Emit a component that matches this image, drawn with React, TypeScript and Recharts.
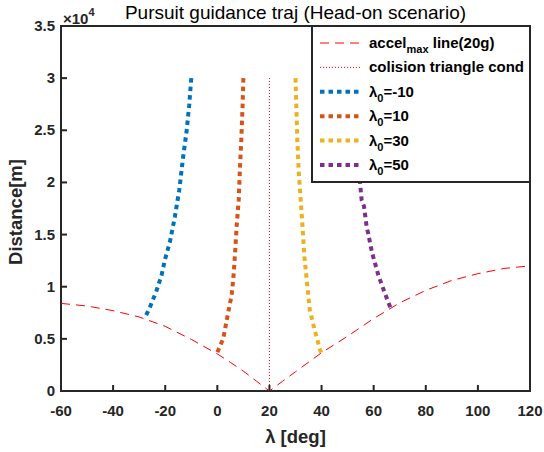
import React from 'react';
import { LineChart, Line, XAxis, YAxis, Legend, ReferenceArea } from 'recharts';

// ---- data (lambda in deg, distance in m) ----
const xTicks = [-60, -40, -20, 0, 20, 40, 60, 80, 100, 120];
const yTicks = [0, 5000, 10000, 15000, 20000, 25000, 30000, 35000];
const yTickLabels = ['0', '0.5', '1', '1.5', '2', '2.5', '3', '3.5'];

const accelLam = [-60, -50, -40, -30, -20, -10, 0, 5, 10, 15, 20, 25, 30, 40, 50, 60, 70, 80, 90, 100, 110, 120];
const accelDist = [8400, 8150, 7700, 7100, 6200, 4950, 3550, 2750, 1900, 950, 0, 925, 1850, 3670, 5250, 6950, 8450, 9650, 10600, 11250, 11750, 12000];

const collisionLam = [20, 20];
const collisionDist = [0, 30000];

const m10Lam = [-10, -10.8, -11.8, -13.1, -14.6, -16.3, -18.2, -20.1, -21.4, -23.5, -25.8, -27.8];
const m10Dist = [30000, 27400, 24900, 22500, 19300, 16700, 14300, 12600, 11100, 9500, 8080, 7000];

const p10Lam = [10, 9.7, 9.2, 8.7, 8.2, 7.4, 6.8, 6.2, 5.5, 3.6, 2.3, -0.2];
const p10Dist = [30000, 27400, 24100, 21500, 18300, 15750, 13200, 11000, 9200, 6800, 5050, 3580];

const p30Lam = [30, 30.4, 30.7, 31.2, 32.0, 32.7, 33.4, 34.9, 35.5, 37.5, 38.1, 39.4, 40];
const p30Dist = [30000, 26600, 24100, 21200, 18300, 15750, 12900, 9200, 7770, 5690, 5200, 3930, 3670];

const p50Lam = [50, 51.2, 52.6, 53.6, 54.7, 55.4, 56.3, 57.3, 57.9, 59.2, 59.8, 61.8, 64.3, 66.5];
const p50Dist = [30000, 27000, 24000, 22000, 20100, 18300, 17700, 15750, 15100, 13500, 12900, 11100, 9370, 7950];

const zip = (xs: number[], ys: number[]) => xs.map((x, i) => ({ x, y: ys[i] }));

const accelData = zip(accelLam, accelDist);
const collisionData = zip(collisionLam, collisionDist);
const m10Data = zip(m10Lam, m10Dist);
const p10Data = zip(p10Lam, p10Dist);
const p30Data = zip(p30Lam, p30Dist);
const p50Data = zip(p50Lam, p50Dist);

// ---- style ----
const FONT = '"Liberation Sans", Arial, Helvetica, sans-serif';
const AX = '#262626';
const LEFT = 61;
const RIGHT = 530;
const TOP = 26;
const BOTTOM = 391;
const TL = 6;
const C_BLUE = '#0072BD';
const C_ORANGE = '#D95319';
const C_YELLOW = '#EDB120';
const C_PURPLE = '#7E2F8E';
const DOT = '4.5 4';

const XTickBottom = (props: any) => {
  const x = Number(props.x);
  return (
    <g>
      <rect x={x - 1} y={BOTTOM - TL} width={2} height={TL} fill={AX} />
      <text x={x} y={416} textAnchor="middle" fontFamily={FONT} fontWeight="bold" fontSize={15} fill={AX}>
        {props.payload.value}
      </text>
    </g>
  );
};

const XTickTop = (props: any) => {
  const x = Number(props.x);
  return <rect x={x - 1} y={TOP} width={2} height={TL} fill={AX} />;
};

const YTickLeft = (props: any) => {
  const y = Number(props.y);
  const idx = yTicks.indexOf(props.payload.value);
  return (
    <g>
      <rect x={LEFT} y={y - 1} width={TL} height={2} fill={AX} />
      <text x={55} y={y + 5} textAnchor="end" fontFamily={FONT} fontWeight="bold" fontSize={15} fill={AX}>
        {yTickLabels[idx]}
      </text>
    </g>
  );
};

const YTickRight = (props: any) => {
  const y = Number(props.y);
  return <rect x={RIGHT - TL} y={y - 1} width={TL} height={2} fill={AX} />;
};

const YLabel = () => (
  <g>
    <text
      x={22}
      y={212}
      transform="rotate(-90 22 212)"
      textAnchor="middle"
      fontFamily={FONT}
      fontWeight="bold"
      fontSize={18.5}
      fill={AX}
    >
      Distance[m]
    </text>
    <text x={63} y={24} fontFamily={FONT} fontWeight="bold" fontSize={15} fill={AX}>
      ×10
      <tspan fontSize={11} dy={-8}>4</tspan>
    </text>
  </g>
);

const XLabel = () => (
  <text x={295.5} y={443} textAnchor="middle" fontFamily={FONT} fontWeight="bold" fontSize={18.5} fill={AX}>
    λ [deg]
  </text>
);

const Title = () => (
  <text x={295.5} y={19} textAnchor="middle" fontFamily={FONT} fontSize={19} fill="#000">
    Pursuit guidance traj (Head-on scenario)
  </text>
);

const legendRows = [
  { kind: 'accel', color: '#ff0000', dash: '9 6', width: 1 },
  { kind: 'coll', color: '#ff0000', dash: '1 2', width: 1 },
  { kind: 'lam', label: '=-10', color: C_BLUE, dash: DOT, width: 4 },
  { kind: 'lam', label: '=10', color: C_ORANGE, dash: DOT, width: 4 },
  { kind: 'lam', label: '=30', color: C_YELLOW, dash: DOT, width: 4 },
  { kind: 'lam', label: '=50', color: C_PURPLE, dash: DOT, width: 4 },
];

const LegendBox = () => (
  <svg width={220} height={158} style={{ display: 'block' }}>
    <rect x={1} y={1} width={218} height={156} fill="#fff" stroke={AX} strokeWidth={2} />
    {legendRows.map((r, i) => {
      const cy = 18 + i * 24.4;
      return (
        <g key={i}>
          <line x1={9} x2={49} y1={cy} y2={cy} stroke={r.color} strokeWidth={r.width} strokeDasharray={r.dash} />
          <text x={58} y={cy + 5} fontFamily={FONT} fontWeight="bold" fontSize={15} fill="#000">
            {r.kind === 'accel' && (
              <>
                accel<tspan fontSize={11} dy={5}>max</tspan>
                <tspan dy={-5}> line(20g)</tspan>
              </>
            )}
            {r.kind === 'coll' && 'colision triangle cond'}
            {r.kind === 'lam' && (
              <>
                λ<tspan fontSize={11} dy={5}>0</tspan>
                <tspan dy={-5}>{r.label}</tspan>
              </>
            )}
          </text>
        </g>
      );
    })}
  </svg>
);

export default function App() {
  return (
    <div style={{ position: 'absolute', left: 0, top: 0, width: 544, height: 452, background: '#fff' }}>
      <LineChart width={544} height={452} margin={{ top: TOP - 1, right: 544 - RIGHT - 1, bottom: 16, left: 0 }}>
        <XAxis
          type="number"
          dataKey="x"
          domain={[-60, 120]}
          ticks={xTicks}
          interval={0}
          allowDataOverflow
          height={45}
          axisLine={false}
          tickLine={false}
          tick={<XTickBottom />}
          label={{ content: () => <XLabel /> }}
        />
        <XAxis
          xAxisId="top"
          orientation="top"
          type="number"
          dataKey="x"
          domain={[-60, 120]}
          ticks={xTicks}
          interval={0}
          height={1}
          axisLine={false}
          tickLine={false}
          tick={<XTickTop />}
          label={{ content: () => <Title /> }}
        />
        <YAxis
          type="number"
          domain={[0, 35000]}
          ticks={yTicks}
          interval={0}
          allowDataOverflow
          width={LEFT}
          axisLine={false}
          tickLine={false}
          tick={<YTickLeft />}
          label={{ content: () => <YLabel /> }}
        />
        <YAxis
          yAxisId="right"
          orientation="right"
          type="number"
          domain={[0, 35000]}
          ticks={yTicks}
          interval={0}
          width={1}
          axisLine={false}
          tickLine={false}
          tick={<YTickRight />}
        />
        <ReferenceArea
          x1={-60}
          x2={120}
          y1={0}
          y2={35000}
          ifOverflow="visible"
          fill="none"
          fillOpacity={0}
          stroke={AX}
          strokeOpacity={1}
          strokeWidth={2}
        />
        <Line data={accelData} dataKey="y" type="linear" stroke="#ff0000" strokeWidth={1} strokeDasharray="9 6" dot={false} isAnimationActive={false} />
        <Line data={collisionData} dataKey="y" type="linear" stroke="#ff0000" strokeWidth={1} strokeDasharray="1 2" dot={false} isAnimationActive={false} />
        <Line data={m10Data} dataKey="y" type="linear" stroke={C_BLUE} strokeWidth={4} strokeDasharray={DOT} dot={false} isAnimationActive={false} />
        <Line data={p10Data} dataKey="y" type="linear" stroke={C_ORANGE} strokeWidth={4} strokeDasharray={DOT} dot={false} isAnimationActive={false} />
        <Line data={p30Data} dataKey="y" type="linear" stroke={C_YELLOW} strokeWidth={4} strokeDasharray={DOT} dot={false} isAnimationActive={false} />
        <Line data={p50Data} dataKey="y" type="linear" stroke={C_PURPLE} strokeWidth={4} strokeDasharray={DOT} dot={false} isAnimationActive={false} />
        <Legend
          layout="vertical"
          align="center"
          verticalAlign="middle"
          wrapperStyle={{ left: 311, top: 25, width: 220, height: 158 }}
          content={() => <LegendBox />}
        />
      </LineChart>
    </div>
  );
}
